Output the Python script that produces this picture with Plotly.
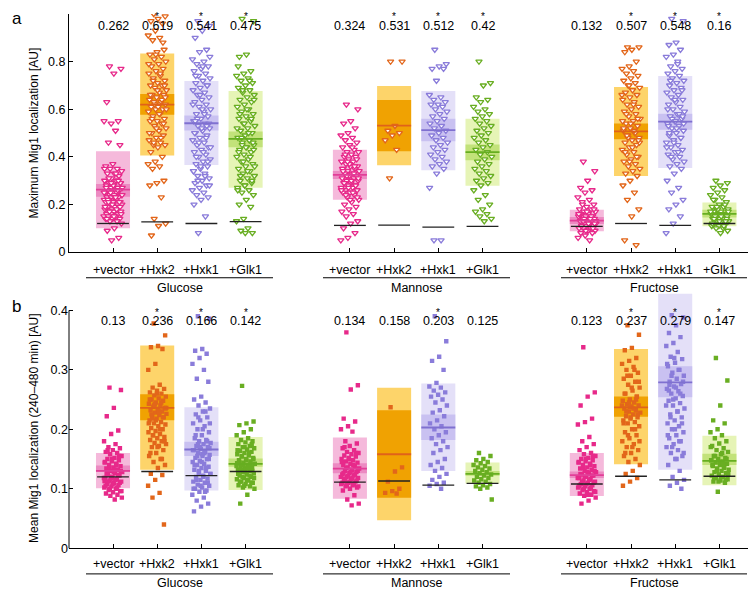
import plotly.graph_objects as go

W, H = 756, 590

# ---------------- data ----------------
sugars = ["Glucose", "Mannose", "Fructose"]
strains = ["+vector", "+Hxk2", "+Hxk1", "+Glk1"]

# panel a : Maximum Mig1 localization  (order: Glu vec,Hxk2,Hxk1,Glk1, Man ..., Fru ...)
a_mean = [0.262, 0.619, 0.541, 0.475, 0.324, 0.531, 0.512, 0.42, 0.132, 0.507, 0.548, 0.16]
a_sd_lo = [0.100, 0.406, 0.366, 0.270, 0.220, 0.365, 0.344, 0.278, 0.087, 0.319, 0.353, 0.108]
a_sd_hi = [0.423, 0.834, 0.718, 0.676, 0.430, 0.697, 0.676, 0.560, 0.178, 0.693, 0.739, 0.208]
a_ci_lo = [0.232, 0.577, 0.510, 0.440, 0.307, 0.423, 0.465, 0.386, 0.118, 0.474, 0.514, 0.145]
a_ci_hi = [0.286, 0.664, 0.573, 0.506, 0.340, 0.639, 0.560, 0.452, 0.147, 0.540, 0.581, 0.178]
a_base = [0.120, 0.127, 0.120, 0.128, 0.112, 0.113, 0.105, 0.108, 0.108, 0.120, 0.112, 0.120]
a_star = [0, 1, 1, 1, 0, 1, 1, 1, 0, 1, 1, 1]

# panel b : Mean Mig1 localization (240-480 min)
b_mean = [0.13, 0.236, 0.166, 0.142, 0.134, 0.158, 0.203, 0.125, 0.123, 0.237, 0.279, 0.147]
b_sd_lo = [0.101, 0.132, 0.097, 0.098, 0.083, 0.047, 0.130, 0.109, 0.088, 0.141, 0.132, 0.106]
b_sd_hi = [0.160, 0.341, 0.237, 0.187, 0.186, 0.270, 0.277, 0.144, 0.160, 0.335, 0.428, 0.189]
b_ci_lo = [0.128, 0.215, 0.155, 0.137, 0.126, 0.085, 0.182, 0.122, 0.118, 0.221, 0.254, 0.140]
b_ci_hi = [0.139, 0.259, 0.179, 0.151, 0.143, 0.232, 0.225, 0.130, 0.129, 0.255, 0.306, 0.159]
b_base = [0.120, 0.129, 0.122, 0.129, 0.111, 0.113, 0.106, 0.109, 0.108, 0.121, 0.115, 0.121]
b_star = [0, 1, 1, 1, 0, 0, 1, 0, 0, 1, 1, 1]

# individual cells, panel a (percent)
a_glu_vec = [78, 77, 75, 63, 55, 54, 55, 51, 46, 45, 37, 36, 35, 35, 34, 33, 33, 32, 31, 30, 30, 29, 29, 28, 28, 27, 27, 27, 26, 26, 26, 25, 25, 25, 24, 24, 24, 23, 23, 23, 22, 22, 22, 21, 21, 21, 20, 20, 20, 19, 19, 19, 18, 18, 18, 17, 17, 17, 16, 16, 16, 15, 15, 15, 14, 14, 14, 13, 13, 12, 10, 9, 6, 5,
             35, 33, 31, 29, 28, 27, 26, 25, 24, 23, 22, 21, 20, 19, 18, 17, 16, 15, 14, 30, 29, 25, 23, 21, 19]
a_glu_hxk2 = [100, 99, 98, 97, 96, 93, 91, 90, 89, 85, 84, 83, 82, 81, 80, 79, 78, 77, 76, 75, 74, 73, 72, 71, 70, 70, 69, 68, 67, 66, 66, 65, 64, 63, 63, 62, 62, 61, 60, 60, 59, 58, 57, 56, 55, 55, 54, 53, 52, 51, 50, 49, 48, 47, 46, 45, 45, 44, 42, 40, 38, 37, 36, 35, 30, 29, 28, 23, 14, 12, 11, 7,
              88, 83, 79, 75, 72, 70, 68, 66, 64, 62, 60, 58, 56, 54, 52, 50, 48, 46, 65, 61]
a_glu_hxk1 = [97, 95, 93, 90, 85, 84, 81, 80, 79, 78, 77, 76, 75, 74, 73, 72, 71, 70, 69, 68, 67, 66, 65, 64, 63, 62, 61, 60, 59, 58, 57, 56, 55, 54, 53, 52, 51, 50, 49, 48, 47, 46, 45, 44, 43, 42, 41, 40, 39, 38, 37, 36, 35, 34, 33, 32, 31, 30, 29, 28, 27, 26, 25, 24, 23, 22, 20, 15, 8,
              82, 78, 74, 70, 66, 62, 58, 56, 54, 52, 50, 48, 46, 44, 42, 40, 38, 36, 34, 32, 30, 28, 60, 55, 53]
a_glu_glk1 = [98, 97, 83, 82, 76, 75, 74, 73, 72, 71, 70, 69, 68, 67, 66, 65, 64, 63, 62, 61, 60, 59, 58, 57, 56, 55, 54, 53, 52, 51, 50, 49, 48, 47, 46, 45, 44, 43, 42, 41, 40, 39, 38, 37, 36, 35, 34, 33, 32, 31, 30, 29, 28, 27, 26, 25, 24, 22, 20, 19, 14, 13, 10, 9, 8, 8,
              78, 72, 68, 64, 60, 58, 56, 54, 52, 50, 48, 46, 44, 42, 40, 38, 36, 34, 32, 30, 28, 26, 47, 45, 43]
a_man_vec = [62, 60, 55, 54, 52, 50, 49, 48, 47, 46, 45, 44, 43, 42, 42, 41, 40, 40, 39, 38, 38, 37, 36, 36, 35, 35, 34, 34, 33, 33, 32, 32, 31, 31, 30, 30, 29, 29, 28, 28, 27, 27, 26, 26, 25, 25, 24, 23, 22, 21, 20, 19, 18, 17, 16, 15, 13, 12, 10, 8, 6, 5,
             44, 41, 39, 37, 35, 33, 32, 31, 30, 29, 28, 27, 26, 25, 24, 23, 22, 34, 36, 38]
a_man_hxk2 = [80, 80, 53, 51, 50, 49, 47, 43, 31]
a_man_hxk1 = [85, 79, 78, 77, 77, 72, 66, 65, 64, 63, 62, 62, 61, 60, 59, 58, 57, 56, 55, 54, 53, 52, 51, 50, 49, 48, 47, 46, 45, 44, 43, 42, 41, 40, 39, 38, 37, 36, 35, 33, 27, 5, 5]
a_man_glk1 = [80, 71, 70, 65, 64, 63, 61, 60, 59, 58, 57, 56, 55, 54, 53, 52, 51, 50, 49, 48, 47, 46, 45, 44, 43, 42, 41, 40, 39, 38, 37, 36, 35, 34, 33, 32, 31, 30, 29, 28, 26, 24, 22, 20, 18, 17, 16, 15, 14, 13]
a_fru_vec = [38, 34, 30, 27, 26, 25, 23, 22, 21, 20, 19, 18, 18, 17, 17, 16, 16, 15, 15, 15, 14, 14, 14, 13, 13, 13, 12, 12, 12, 11, 11, 11, 10, 10, 10, 9, 9, 8, 8, 7, 6, 5,
             20, 18, 17, 16, 15, 14, 13, 12, 11, 10, 9, 16, 14, 13, 12]
a_fru_hxk2 = [86, 86, 85, 84, 80, 78, 77, 76, 75, 74, 73, 72, 71, 70, 69, 68, 67, 66, 65, 64, 63, 62, 61, 60, 59, 58, 57, 56, 55, 54, 53, 52, 51, 50, 49, 48, 47, 46, 45, 44, 43, 42, 41, 40, 39, 38, 37, 36, 35, 34, 33, 32, 30, 28, 25, 22, 18, 15, 5, 3,
              70, 66, 62, 58, 56, 54, 52, 50, 48, 46, 44, 42, 40, 38, 55, 51, 49, 47]
a_fru_hxk1 = [98, 97, 88, 87, 85, 83, 82, 80, 78, 77, 76, 75, 74, 73, 72, 71, 70, 69, 68, 67, 66, 65, 64, 63, 62, 61, 60, 59, 58, 57, 56, 55, 54, 53, 52, 51, 50, 49, 48, 47, 46, 45, 44, 43, 42, 41, 40, 39, 38, 37, 36, 35, 33, 30, 27, 25, 22, 20, 18, 15, 12, 8,
              79, 72, 68, 64, 60, 58, 56, 54, 52, 50, 48, 46, 44, 42, 40, 57, 55, 53]
a_fru_glk1 = [30, 29, 28, 27, 26, 25, 24, 23, 22, 21, 20, 19, 19, 18, 18, 17, 17, 16, 16, 16, 15, 15, 15, 14, 14, 14, 13, 13, 13, 12, 12, 11, 11, 10, 10, 9, 8,
              22, 20, 18, 17, 16, 15, 14, 13, 12, 11, 19, 17, 15, 14, 13]

# individual cells, panel b (thousandths)
b_glu_vec = [270, 266, 236, 222, 198, 192, 180, 175, 170, 168, 165, 162, 160, 158, 155, 152, 150, 148, 146, 144, 142, 140, 138, 136, 134, 132, 130, 128, 126, 124, 122, 120, 118, 116, 114, 112, 110, 108, 106, 104, 102, 100, 98, 96, 94, 92, 90, 88, 85, 82,
             165, 155, 150, 145, 140, 135, 130, 128, 125, 122, 120, 118, 115, 112, 110, 108, 105, 102, 100, 96, 132, 127, 123, 117, 113]
b_glu_hxk2 = [378, 358, 340, 338, 335, 310, 300, 275, 270, 268, 265, 262, 260, 257, 255, 252, 250, 248, 245, 243, 240, 238, 236, 234, 232, 230, 228, 226, 224, 222, 220, 218, 215, 212, 210, 208, 205, 202, 200, 197, 195, 192, 190, 187, 185, 182, 180, 177, 175, 172, 170, 165, 160, 155, 150, 145, 140, 135, 125, 123, 115, 105, 93, 85, 40,
              260, 250, 245, 240, 235, 230, 225, 220, 215, 210, 200, 190, 180, 170, 160, 150, 242, 236, 228, 218]
b_glu_hxk1 = [390, 386, 335, 332, 327, 320, 310, 300, 285, 280, 255, 250, 245, 240, 235, 230, 225, 220, 215, 210, 205, 200, 195, 190, 185, 182, 180, 177, 175, 172, 170, 167, 165, 162, 160, 157, 155, 152, 150, 147, 145, 142, 140, 137, 135, 132, 130, 127, 125, 122, 120, 117, 115, 112, 110, 107, 105, 102, 100, 97, 95, 90, 85, 80, 75, 70, 62,
              230, 220, 210, 200, 190, 180, 170, 165, 160, 155, 150, 145, 140, 135, 130, 125, 120, 115, 110, 105, 100, 95, 175, 168, 158]
b_glu_glk1 = [273, 213, 210, 207, 200, 195, 190, 185, 182, 180, 178, 175, 172, 170, 168, 166, 164, 162, 160, 158, 156, 154, 152, 150, 148, 146, 144, 142, 140, 138, 136, 134, 132, 130, 128, 126, 124, 122, 120, 118, 116, 114, 112, 110, 108, 106, 104, 102, 100, 90, 75,
              175, 170, 165, 160, 155, 150, 148, 145, 142, 140, 138, 135, 132, 130, 128, 125, 122, 120, 118, 115, 112, 110, 105, 143, 137]
b_man_vec = [363, 274, 267, 218, 213, 205, 200, 196, 180, 176, 172, 168, 165, 162, 160, 158, 156, 154, 152, 150, 148, 146, 144, 142, 140, 138, 136, 134, 132, 130, 128, 126, 124, 122, 120, 118, 116, 114, 112, 110, 108, 106, 104, 102, 100, 97, 89, 82, 75, 72,
             170, 160, 150, 145, 140, 135, 130, 128, 126, 124, 122, 120, 118, 116, 114, 112, 110, 108, 106, 104]
b_man_hxk2 = [237, 136, 129, 112, 100, 96, 93, 92]
b_man_hxk1 = [390, 348, 322, 315, 300, 278, 272, 270, 265, 262, 258, 255, 250, 245, 240, 232, 228, 222, 215, 210, 205, 200, 195, 190, 185, 180, 175, 170, 165, 160, 150, 145, 140, 135, 130, 125, 120, 115, 110, 108, 105, 100]
b_man_glk1 = [160, 155, 150, 148, 145, 143, 140, 138, 136, 134, 132, 130, 128, 126, 124, 122, 120, 118, 116, 114, 112, 110, 108, 106, 104, 102, 100, 82]
b_fru_vec = [338, 262, 255, 240, 218, 212, 208, 187, 180, 175, 170, 165, 160, 158, 155, 152, 150, 148, 146, 144, 142, 140, 138, 136, 134, 132, 130, 128, 126, 124, 122, 120, 118, 116, 114, 112, 110, 108, 106, 104, 102, 100, 98, 96, 94, 92, 90, 88, 85, 80, 75,
             155, 150, 145, 140, 135, 130, 128, 125, 122, 120, 118, 115, 112, 110, 108, 105, 102, 100, 95, 90]
b_fru_hxk2 = [375, 359, 337, 333, 320, 315, 310, 305, 300, 295, 290, 285, 280, 275, 270, 265, 260, 255, 250, 248, 245, 242, 240, 238, 235, 232, 230, 228, 225, 222, 220, 218, 215, 212, 210, 205, 200, 195, 190, 185, 180, 175, 170, 165, 160, 155, 150, 145, 140, 130, 125, 118, 112, 105,
              300, 290, 280, 270, 260, 250, 245, 240, 235, 230, 225, 220, 210, 200, 190, 180, 170, 160, 255, 238]
b_fru_hxk1 = [392, 388, 375, 362, 355, 345, 340, 330, 322, 318, 312, 306, 300, 295, 290, 285, 280, 276, 272, 268, 264, 260, 256, 252, 248, 244, 240, 235, 230, 225, 220, 215, 210, 205, 200, 195, 190, 185, 180, 175, 170, 165, 160, 155, 150, 140, 130, 120, 115, 110, 105, 100,
              320, 310, 300, 290, 280, 270, 265, 260, 250, 240, 230, 220, 210, 200, 190, 180, 170, 160, 150, 275]
b_fru_glk1 = [320, 282, 240, 215, 210, 200, 195, 190, 185, 180, 176, 172, 168, 165, 162, 158, 155, 152, 150, 148, 146, 144, 142, 140, 138, 136, 134, 132, 130, 128, 126, 124, 122, 120, 118, 116, 114, 112, 110, 95,
              170, 160, 155, 150, 145, 140, 135, 130, 125, 120, 118, 115, 112, 148, 142]

a_points = [a_glu_vec, a_glu_hxk2, a_glu_hxk1, a_glu_glk1,
            a_man_vec, a_man_hxk2, a_man_hxk1, a_man_glk1,
            a_fru_vec, a_fru_hxk2, a_fru_hxk1, a_fru_glk1]
b_points = [b_glu_vec, b_glu_hxk2, b_glu_hxk1, b_glu_glk1,
            b_man_vec, b_man_hxk2, b_man_hxk1, b_man_glk1,
            b_fru_vec, b_fru_hxk2, b_fru_hxk1, b_fru_glk1]

# ---------------- styling ----------------
FONT = "Liberation Sans, Arial, sans-serif"
pt_col = ["#E7298A", "#E2661A", "#8A7CDA", "#69AE22"]
light_col = ["#F5B9DB", "#FDD46A", "#E4E0F8", "#E6F4B6"]
dark_col = ["#EC8AC2", "#F0A202", "#C9C1F1", "#C2E27A"]
line_col = ["#E23E98", "#E0621A", "#7F70D0", "#66AE20"]

group_off = [0.0, 5.36, 10.72]
pos = [g + k for g in group_off for k in range(4)]

PXU = 44.2  # pixels per x unit
X0PX = 105  # pixel of first category
LEFT = 61
xr = [-(X0PX - LEFT) / PXU, (W - X0PX) / PXU]


def py(p):
    return 1 - p / H


def pxp(p):
    return p / W


# bottom panel: 0 at 546.7px, 0.4 at 306px ; extend range so tall box is not clipped
b_top_val = 0.432
b_top_px = 546.7 - b_top_val / 0.4 * 240.7

fig = go.Figure()


# jitter (horizontal positions only)
def jit(n, w=0.21):
    return [((i * 0.6180339887 + 0.31) % 1.0 - 0.5) * 2 * w for i in range(n)]


shapes = []
ann = []
for panel in range(2):
    xref = "x" if panel == 0 else "x2"
    yref = "y" if panel == 0 else "y2"
    pts = a_points if panel == 0 else b_points
    scale = 100.0 if panel == 0 else 1000.0
    sdl, sdh = (a_sd_lo, a_sd_hi) if panel == 0 else (b_sd_lo, b_sd_hi)
    cil, cih = (a_ci_lo, a_ci_hi) if panel == 0 else (b_ci_lo, b_ci_hi)
    mean = a_mean if panel == 0 else b_mean
    base = a_base if panel == 0 else b_base
    star = a_star if panel == 0 else b_star
    for j in range(12):
        k = j % 4
        c = pos[j]
        hw = 0.385
        shapes.append(dict(type="rect", xref=xref, yref=yref, x0=c - hw, x1=c + hw,
                           y0=sdl[j], y1=sdh[j], fillcolor=light_col[k],
                           line=dict(width=0), layer="below"))
        shapes.append(dict(type="rect", xref=xref, yref=yref, x0=c - hw, x1=c + hw,
                           y0=cil[j], y1=cih[j], fillcolor=dark_col[k],
                           line=dict(width=0), layer="below"))
        vals = [v / scale for v in pts[j]]
        js = jit(len(vals))
        if panel == 0:
            marker = dict(symbol="triangle-down", size=5.5, color="white",
                          line=dict(color=pt_col[k], width=1.3))
        else:
            marker = dict(symbol="square", size=4.4, color=pt_col[k], line=dict(width=0))
        fig.add_trace(go.Scatter(x=[c + d for d in js], y=vals, mode="markers",
                                 marker=marker, xaxis=xref, yaxis=yref,
                                 showlegend=False, hoverinfo="y"))
        shapes.append(dict(type="line", xref=xref, yref=yref, x0=c - hw, x1=c + hw,
                           y0=mean[j], y1=mean[j], line=dict(color=line_col[k], width=1.8),
                           layer="above"))
        shapes.append(dict(type="line", xref=xref, yref=yref, x0=c - 0.36, x1=c + 0.36,
                           y0=base[j], y1=base[j], line=dict(color="#222222", width=1.3),
                           layer="above"))
        # mean labels and stars
        lab_px = 18 if panel == 0 else 317
        star_px = 9 if panel == 0 else 308
        ann.append(dict(x=c, xref=xref, y=py(lab_px), yref="paper", text=f"{mean[j]:g}",
                        showarrow=False, font=dict(size=12.5, color="black", family=FONT),
                        xanchor="center", yanchor="middle"))
        if star[j]:
            ann.append(dict(x=c, xref=xref, y=py(star_px), yref="paper", text="*",
                            showarrow=False, font=dict(size=10, color="black", family=FONT),
                            xanchor="center", yanchor="middle"))
        # category labels
        cat_px = 265 if panel == 0 else 563
        ann.append(dict(x=c, xref=xref, y=py(cat_px), yref="paper", text=strains[k],
                        showarrow=False, font=dict(size=12.5, color="black", family=FONT),
                        xanchor="center", yanchor="middle"))
    # group underlines + labels
    ul_px = 273 if panel == 0 else 572.7
    gl_px = 283 if panel == 0 else 582
    for g, (x0p, x1p) in enumerate([(78, 265), (315, 502), (553, 739)]):
        shapes.append(dict(type="line", xref="paper", yref="paper", x0=pxp(x0p), x1=pxp(x1p),
                           y0=py(ul_px), y1=py(ul_px), line=dict(color="black", width=1)))
        ann.append(dict(x=pxp((x0p + x1p) / 2), xref="paper", y=py(gl_px), yref="paper",
                        text=sugars[g], showarrow=False,
                        font=dict(size=12.5, color="black", family=FONT),
                        xanchor="center", yanchor="middle"))

# bottom y axis line up to 0.4
shapes.append(dict(type="line", xref="paper", yref="paper", x0=pxp(LEFT), x1=pxp(LEFT),
                   y0=py(546.7), y1=py(306), line=dict(color="black", width=1)))

# axis titles
ann.append(dict(x=pxp(26), y=py(127), xref="paper", yref="paper", text="Maximum Mig1 localization [AU]",
                textangle=-90, showarrow=False, font=dict(size=12, color="black", family=FONT),
                xanchor="center", yanchor="middle"))
ann.append(dict(x=pxp(26), y=py(426), xref="paper", yref="paper",
                text="Mean Mig1 localization (240\u2013480 min) [AU]",
                textangle=-90, showarrow=False, font=dict(size=12, color="black", family=FONT),
                xanchor="center", yanchor="middle"))
# panel letters
ann.append(dict(x=pxp(2), y=py(11), xref="paper", yref="paper", text="a", showarrow=False,
                font=dict(size=17, color="black", family=FONT), xanchor="left", yanchor="middle"))
ann.append(dict(x=pxp(2), y=py(302), xref="paper", yref="paper", text="b", showarrow=False,
                font=dict(size=17, color="black", family=FONT), xanchor="left", yanchor="middle"))

xdom = [LEFT / W, 1.0]
common_x = dict(domain=xdom, range=xr, showgrid=False, zeroline=False, showline=True,
                linecolor="black", linewidth=1, ticks="inside", ticklen=4, tickcolor="black",
                tickvals=pos, showticklabels=False, fixedrange=True)
fig.update_layout(
    width=W, height=H, margin=dict(l=0, r=0, t=0, b=0),
    paper_bgcolor="white", plot_bgcolor="white", showlegend=False,
    font=dict(family=FONT, color="black"),
    xaxis=dict(anchor="y", **common_x),
    xaxis2=dict(anchor="y2", **common_x),
    yaxis=dict(domain=[py(247), py(6)], range=[0, 1], anchor="x", showgrid=False,
               zeroline=False, showline=True, linecolor="black", linewidth=1,
               ticks="inside", ticklen=4, tickcolor="black",
               tickvals=[0, 0.2, 0.4, 0.6, 0.8, 1], ticktext=["0", "0.2", "0.4", "0.6", "0.8", "1"],
               tickfont=dict(size=12.5, family=FONT, color="black")),
    yaxis2=dict(domain=[py(546.7), py(b_top_px)], range=[0, b_top_val], anchor="x2",
                showgrid=False, zeroline=False, showline=False,
                ticks="inside", ticklen=4, tickcolor="black",
                tickvals=[0, 0.1, 0.2, 0.3, 0.4], ticktext=["0", "0.1", "0.2", "0.3", "0.4"],
                tickfont=dict(size=12.5, family=FONT, color="black")),
    shapes=shapes, annotations=ann,
)

fig.write_html("out.html")
